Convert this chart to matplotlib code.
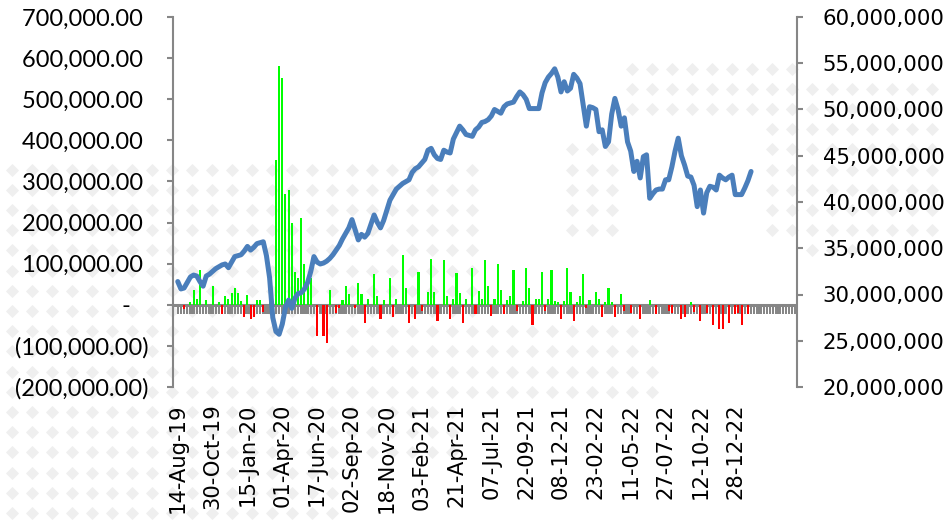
import matplotlib
matplotlib.use("Agg")
import matplotlib.pyplot as plt
import numpy as np
from matplotlib.ticker import FuncFormatter, MultipleLocator, FixedLocator

# ---------------- data ----------------
n_weeks = 196  # weekly categories starting 14-Aug-19

tick_labels = ["14-Aug-19", "30-Oct-19", "15-Jan-20", "01-Apr-20", "17-Jun-20",
               "02-Sep-20", "18-Nov-20", "03-Feb-21", "21-Apr-21", "07-Jul-21",
               "22-09-21", "08-12-21", "23-02-22", "11-05-22", "27-07-22",
               "12-10-22", "28-12-22"]
tick_step = 11

# weekly total (right axis, millions)
total_m = [31.4, 30.6, 30.7, 31.3, 31.9, 32.1, 32.0, 31.4, 30.9,
           32.0, 32.2, 32.5, 32.8, 33.0, 33.2, 33.3, 32.9, 33.5, 34.1,
           34.2, 34.3, 34.7, 35.2, 34.8, 35.1, 35.5, 35.6, 35.7, 34.2,
           31.8, 27.5, 26.0, 25.7, 26.8, 28.6, 29.4, 28.5, 29.6, 30.1,
           30.2, 30.6, 31.3, 32.5, 34.1, 33.5, 33.3, 33.4, 33.6, 33.9, 34.3,
           34.8, 35.3, 36.0, 36.6, 37.2, 38.1, 37.0, 35.9, 36.5, 36.2,
           36.6, 37.6, 38.6, 37.8, 37.2, 38.0, 39.1, 40.2, 40.8, 41.4,
           41.7, 42.0, 42.2, 42.4, 43.2, 43.6, 43.8, 44.2, 44.6, 45.6,
           45.8, 45.1, 44.7, 44.6, 45.6, 45.4, 45.3, 46.8, 47.5, 48.2,
           47.8, 47.3, 47.2, 47.1, 47.8, 48.1, 48.6, 48.7, 48.9, 49.3,
           50.0, 49.8, 49.6, 50.3, 50.6, 50.7, 50.8, 51.4, 51.9, 51.6,
           51.1, 50.1, 50.1, 50.1, 50.1, 51.8, 52.9, 53.5, 53.9, 54.4,
           53.5, 51.9, 53.0, 52.0, 52.3, 53.8, 53.4, 52.8, 50.5, 48.2,
           50.3, 50.2, 50.0, 47.6, 47.8, 46.0, 46.5, 49.5, 51.2, 50.0,
           48.2, 49.1, 46.5, 45.5, 43.3, 44.4, 42.6, 44.9, 45.1, 40.4,
           40.9, 41.3, 41.4, 41.4, 42.4, 42.4, 43.8, 45.5, 46.9, 45.0,
           44.0, 42.8, 42.7, 41.8, 39.5, 41.3, 38.8, 41.0, 41.7, 41.6,
           41.3, 42.9, 42.6, 42.4, 42.7, 42.9, 40.8, 40.8, 40.8, 41.5,
           42.3, 43.3]

# weekly net flow (left axis, thousands); weeks not listed are zero
flow_week = [2, 4, 5, 6, 7, 9, 11, 13, 14, 15, 16, 17, 18, 19, 20, 21, 22, 23, 24,
             25, 26, 27, 29, 31, 32, 33, 34, 35, 36, 37, 38, 39, 40, 41, 42, 44,
             46, 47, 48, 50, 51, 52, 53, 54, 56, 57, 58, 59, 60, 62, 63, 64, 65,
             67, 68, 69, 71, 72, 73, 75, 76, 77, 79, 80, 81, 82, 84, 85, 86, 87,
             88, 89, 90, 91, 93, 94, 95, 96, 97, 98, 99, 100, 101, 102, 103, 104,
             105, 106, 107, 109, 110, 111, 112, 113, 114, 115, 116, 117, 118, 119,
             120, 121, 122, 123, 124, 125, 126, 127, 128, 129, 130, 132, 133, 134,
             135, 136, 137, 138, 140, 141, 143, 146, 149, 151, 155, 156, 159, 160,
             162, 163, 165, 167, 169, 171, 172, 174, 176, 177, 178, 180]
flow_k = [-10, 7, 36, 14, 85, 12, 46, 7, -23, 22, 14, 28, 40, 28, 10, -30, 25, -35, -30,
          12, 12, -17, 70, 352, 581, 552, 270, 280, 200, 79, 64, 212, 98, 64, 64, -76,
          -76, -92, 35, -20, -9, 11, 46, 26, -9, 52, 26, -44, 15, 76, 22, -35, 11,
          64, -30, 15, 120, 40, -44, -35, 80, -15, 31, 112, 31, -39, 109, 22, -35, 15,
          78, 28, -44, 15, 89, -23, 34, 15, 109, 45, -28, 15, 98, 36, -23, 12,
          22, 85, -15, 10, 90, 40, -49, 15, 15, 80, -15, 15, 85, 10,
          7, -35, 10, 89, 30, -39, 7, 22, 74, -9, 11, 31, 15, -30,
          7, 40, 6, -30, 26, -15, -20, -35, 12, -23, -15, -20, -35, -30,
          7, -18, -39, -20, -49, -59, -59, -44, -23, -20, -49, -23]

# ---------------- styling ----------------
GRAY = "#868686"
BLUE = "#4a7ebb"
GREEN = "#00ff00"
RED = "#ff0000"
WMARK = "#efefef"

W, H = 950, 523
fig = plt.figure(figsize=(W / 100, H / 100), dpi=100)

# faint diamond watermark in the background (decoration)
bg = fig.add_axes([0, 0, 1, 1], zorder=-10)
bg.set_xlim(0, W)
bg.set_ylim(H, 0)
bg.axis("off")
regions = [(0, 480, 158, 400), (0, 340, 400, 523), (340, 470, 400, 470),
           (475, 660, 320, 400), (620, 800, 60, 120), (760, 950, 80, 240),
           (560, 630, 145, 240), (800, 880, 240, 260)]
gx = np.arange(12, W, 20)
gy = np.arange(8, H, 20.2)
px, py = [], []
for x0, x1, y0, y1 in regions:
    for yy in gy:
        if y0 <= yy <= y1:
            for xx in gx:
                if x0 <= xx <= x1:
                    px.append(xx)
                    py.append(yy)
bg.scatter(px, py, marker="D", s=44, color=WMARK, linewidths=0)

L, R, T, B = 173, 797, 17, 387
ax = fig.add_axes([L / W, 1 - B / H, (R - L) / W, (B - T) / H])
ax.set_facecolor("none")

weeks = list(range(n_weeks))

# category axis tick marks (gray strip below zero)
ax.bar(weeks, [-23000] * n_weeks, width=0.78, color=GRAY, linewidth=0, zorder=1,
       antialiased=False)
ax.axhline(0, color=GRAY, linewidth=2.2, zorder=2)

flow_vals = [v * 1000 for v in flow_k]
colors = [GREEN if v > 0 else RED for v in flow_vals]
ax.bar(flow_week, flow_vals, width=0.66, color=colors, linewidth=0, zorder=3,
       antialiased=False)

ax.set_ylim(-200000, 700000)
ax.set_xlim(-1.5, n_weeks - 0.5)
ax.yaxis.set_major_locator(MultipleLocator(100000))


def left_fmt(v, pos):
    if abs(v) < 1e-6:
        return "-   "
    if v < 0:
        return "({:,.2f})".format(-v)
    return "{:,.2f} ".format(v)


ax.yaxis.set_major_formatter(FuncFormatter(left_fmt))
for s in ["top", "right", "bottom"]:
    ax.spines[s].set_visible(False)
ax.spines["left"].set_color(GRAY)
ax.spines["left"].set_linewidth(1.5)
ax.tick_params(axis="y", direction="out", length=4.5, width=1.5, color=GRAY,
               pad=13, labelsize=17, labelcolor="black")
for lab in ax.get_yticklabels():
    lab.set_family("Lato")

ax.xaxis.set_major_locator(FixedLocator([i * tick_step for i in range(len(tick_labels))]))
ax.set_xticklabels(tick_labels, rotation=90, ha="center", va="top",
                   fontsize=15.2, family="DejaVu Sans")
ax.tick_params(axis="x", length=0, pad=12)

# right axis: total
ax2 = ax.twinx()
ax2.plot(range(len(total_m)), [v * 1e6 for v in total_m], color=BLUE, linewidth=3.6,
         solid_joinstyle="round", solid_capstyle="round", zorder=5)
ax2.set_ylim(20e6, 60e6)
ax2.set_xlim(-1.5, n_weeks - 0.5)
ax2.yaxis.set_major_locator(MultipleLocator(5e6))
ax2.yaxis.set_major_formatter(FuncFormatter(lambda v, p: "{:,.0f}".format(v)))
for s in ["top", "left", "bottom"]:
    ax2.spines[s].set_visible(False)
ax2.spines["right"].set_color(GRAY)
ax2.spines["right"].set_linewidth(1.5)
ax2.tick_params(axis="y", direction="out", length=4.5, width=1.5, color=GRAY,
                pad=14, labelsize=15.3, labelcolor="black")
for lab in ax2.get_yticklabels():
    lab.set_family("DejaVu Sans")

fig.savefig("out.png", dpi=100)
